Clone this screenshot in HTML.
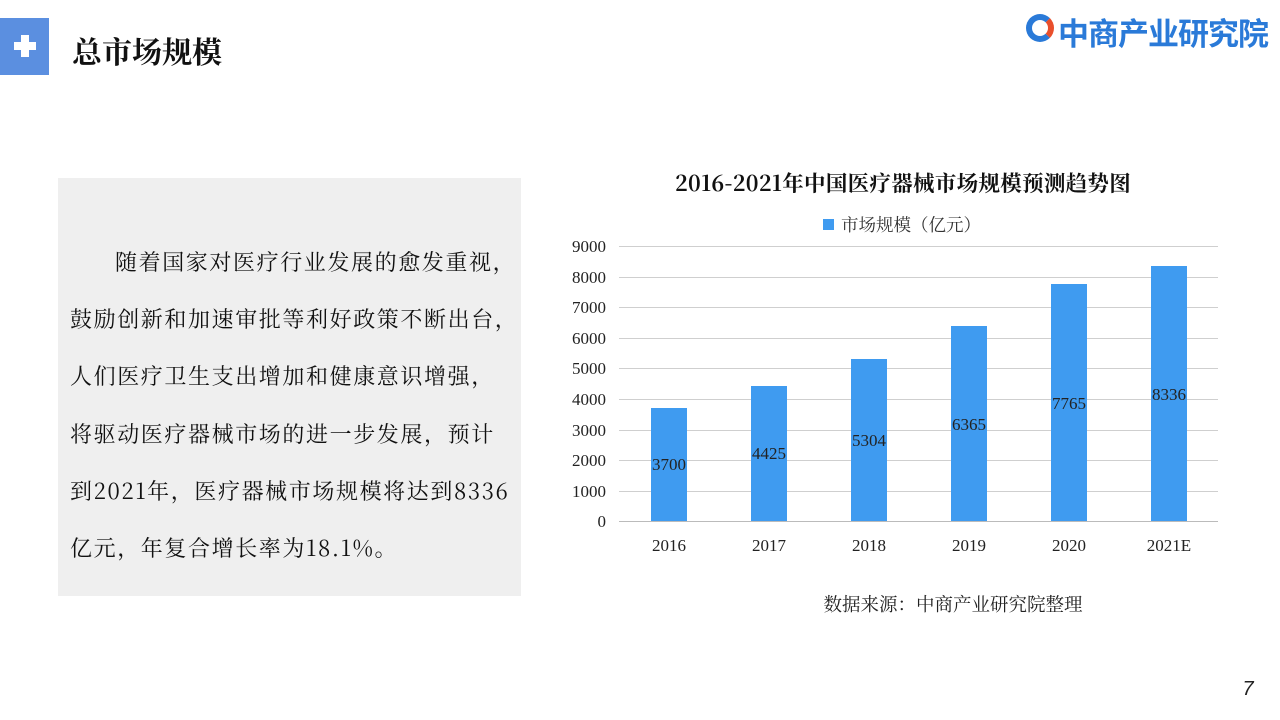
<!DOCTYPE html>
<html><head><meta charset="utf-8"><style>
body{margin:0;width:1280px;height:720px;background:#fff;position:relative;overflow:hidden;font-family:"Liberation Serif","Noto Serif CJK SC",serif}
.abs{position:absolute}
</style></head><body>
<div class="abs" style="left:0;top:18px;width:49px;height:57px;background:#5b8fe0"></div>
<div class="abs" style="left:14px;top:42px;width:22px;height:8px;background:#fff"></div>
<div class="abs" style="left:21px;top:35px;width:8px;height:22px;background:#fff"></div>
<div class="abs" style="left:72px;top:28px;font-size:30px;color:#111;font-weight:bold;font-family:'Noto Serif CJK SC',serif">总市场规模</div>
<div class="abs" style="left:1026px;top:14px;width:28px;height:28px;border-radius:50%;border:6px solid #2a7ad8;border-right-color:#e94f2c;box-sizing:border-box"></div>
<div class="abs" style="left:1058px;top:9px;font-size:31px;color:#2a7ad8;font-weight:bold;font-family:'Noto Sans CJK SC',sans-serif;letter-spacing:-1px">中商产业研究院</div>
<div class="abs" style="left:58px;top:178px;width:463px;height:418px;background:#efefef"></div>
<div class="abs" style="left:70px;top:233px;width:460px;font-size:22px;letter-spacing:1.6px;line-height:57.2px;color:#111;font-family:'Noto Serif CJK SC',serif">
<div style="text-indent:45px;white-space:nowrap">随着国家对医疗行业发展的愈发重视，</div>
<div style="white-space:nowrap">鼓励创新和加速审批等利好政策不断出台，</div>
<div style="white-space:nowrap">人们医疗卫生支出增加和健康意识增强，</div>
<div style="white-space:nowrap">将驱动医疗器械市场的进一步发展，预计</div>
<div style="white-space:nowrap">到2021年，医疗器械市场规模将达到8336</div>
<div style="white-space:nowrap">亿元，年复合增长率为18.1%。</div>
</div>
<svg class="abs" style="left:0;top:0" width="1280" height="720">
<text x="903" y="191" text-anchor="middle" font-size="21.5" letter-spacing="0.3" font-weight="bold" fill="#111" font-family="Noto Serif CJK SC,serif">2016-2021年中国医疗器械市场规模预测趋势图</text>
<rect x="823" y="219" width="11" height="11" fill="#3f9bf0"/>
<text x="841" y="231" font-size="17.5" fill="#333" font-family="Noto Serif CJK SC,serif">市场规模（亿元）</text>
<g stroke="#cfcfcf" stroke-width="1">
<line x1="619" x2="1218" y1="246.5" y2="246.5"/><line x1="619" x2="1218" y1="277.5" y2="277.5"/>
<line x1="619" x2="1218" y1="307.5" y2="307.5"/><line x1="619" x2="1218" y1="338.5" y2="338.5"/>
<line x1="619" x2="1218" y1="368.5" y2="368.5"/><line x1="619" x2="1218" y1="399.5" y2="399.5"/>
<line x1="619" x2="1218" y1="430.5" y2="430.5"/><line x1="619" x2="1218" y1="460.5" y2="460.5"/>
<line x1="619" x2="1218" y1="491.5" y2="491.5"/><line x1="619" x2="1218" y1="521.5" y2="521.5" stroke="#bbb"/>
</g>
<g font-size="17" fill="#222" text-anchor="end" font-family="Liberation Serif,serif">
<text x="606" y="252">9000</text><text x="606" y="283">8000</text><text x="606" y="313">7000</text>
<text x="606" y="344">6000</text><text x="606" y="374">5000</text><text x="606" y="405">4000</text>
<text x="606" y="436">3000</text><text x="606" y="466">2000</text><text x="606" y="497">1000</text><text x="606" y="527">0</text>
</g>
<g fill="#3f9bf0">
<rect x="651" y="408" width="36" height="113"/><rect x="751" y="386" width="36" height="135"/>
<rect x="851" y="359" width="36" height="162"/><rect x="951" y="326" width="36" height="195"/>
<rect x="1051" y="284" width="36" height="237"/><rect x="1151" y="266" width="36" height="255"/>
</g>
<g font-size="17" fill="#222" text-anchor="middle" font-family="Liberation Serif,serif">
<text x="669" y="470">3700</text><text x="769" y="459">4425</text><text x="869" y="446">5304</text>
<text x="969" y="430">6365</text><text x="1069" y="409">7765</text><text x="1169" y="400">8336</text>
<text x="669" y="551">2016</text><text x="769" y="551">2017</text><text x="869" y="551">2018</text>
<text x="969" y="551">2019</text><text x="1069" y="551">2020</text><text x="1169" y="551">2021E</text>
</g>
<text x="953" y="611" text-anchor="middle" font-size="18.5" fill="#222" font-family="Noto Serif CJK SC,serif">数据来源：中商产业研究院整理</text>
<text x="1248" y="695" text-anchor="middle" font-size="20" font-style="italic" fill="#222" font-family="Liberation Sans,sans-serif">7</text>
</svg>
</body></html>
